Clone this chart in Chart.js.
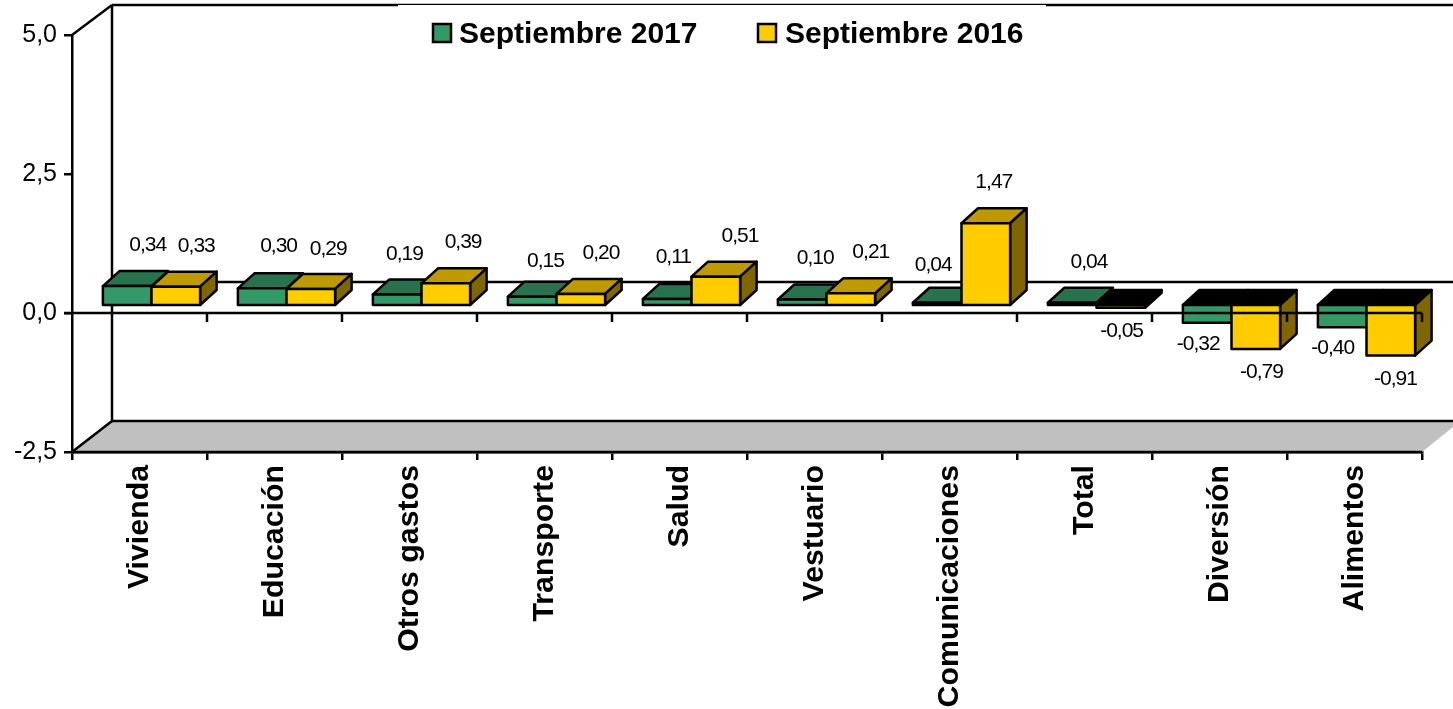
<!DOCTYPE html>
<html>
<head>
<meta charset="utf-8">
<style>html,body{margin:0;padding:0;background:#fff;overflow:hidden}canvas{display:block}</style>
<script src="https://cdn.jsdelivr.net/npm/chart.js@4/dist/chart.umd.min.js"></script>
</head>
<body>
<canvas id="c" width="1453" height="709"></canvas>
<script>
const categories = ['Vivienda','Educación','Otros gastos','Transporte','Salud','Vestuario','Comunicaciones','Total','Diversión','Alimentos'];
const sep2017 = [0.34,0.30,0.19,0.15,0.11,0.10,0.04,0.04,-0.32,-0.40];
const sep2016 = [0.33,0.29,0.39,0.20,0.51,0.21,1.47,-0.05,-0.79,-0.91];
const yTicks = [-2.5,0,2.5,5];

// hand-placed data-label nudges from the bar end, as in the source chart
const nudge2017 = [[20.5,-42],[16.4,-43],[7.3,-41],[13.2,-36],[6.1,-43],[13,-42],[-4,-39],[16.8,-42],[-9,20],[-9.4,20]];
const nudge2016 = [[20.5,-41],[17.4,-41],[17.3,-42],[20.2,-42],[24.1,-41],[20,-42],[8,-42],[0.8,22],[5.7,22],[4.6,23]];

const FONT = '"Liberation Sans", Arial, sans-serif';
const fmt = (v, d) => v.toFixed(d).replace('.', ',');
const WALL = {dx: 40, dy: -31};     // back wall offset
const ROW = {dx: 12, dy: -8};       // bars stand inside the floor depth
const DEPTH = {dx: 16.5, dy: -15};  // bar depth
const CW = 1453, LW = 2.5;

function poly(ctx, pts, fill, noStroke) {
  ctx.beginPath();
  pts.forEach((p, i) => i ? ctx.lineTo(p[0], p[1]) : ctx.moveTo(p[0], p[1]));
  ctx.closePath();
  if (fill) { ctx.fillStyle = fill; ctx.fill(); }
  if (!noStroke) ctx.stroke();
}
function seg(ctx, x1, y1, x2, y2) {
  ctx.beginPath(); ctx.moveTo(x1, y1); ctx.lineTo(x2, y2); ctx.stroke();
}
function drawBoxes(chart, index) {
  const {ctx, scales: {y}} = chart;
  const ds = chart.data.datasets[index];
  chart.getDatasetMeta(index).data.forEach((el, i) => {
    const p = el.getProps(['x', 'y', 'base', 'width'], true);
    const x0 = p.x - p.width / 2 + ROW.dx, x1 = p.x + p.width / 2 + ROW.dx;
    const yz = y.getPixelForValue(0) + ROW.dy;
    const yv = p.y + ROW.dy;
    const top = Math.min(yz, yv), bot = Math.max(yz, yv);
    const neg = ds.data[i] < 0;
    poly(ctx, [[x0, top], [x0 + DEPTH.dx, top + DEPTH.dy], [x1 + DEPTH.dx, top + DEPTH.dy], [x1, top]], neg ? '#000' : ds.topColor);
    // the first series' side is hidden by the neighbouring bar
    if (ds.sideColor) poly(ctx, [[x1, top], [x1 + DEPTH.dx, top + DEPTH.dy], [x1 + DEPTH.dx, bot + DEPTH.dy], [x1, bot]], ds.sideColor);
    poly(ctx, [[x0, top], [x1, top], [x1, bot], [x0, bot]], ds.backgroundColor);
  });
}

const threeD = {
  id: 'threeD',
  beforeDatasetsDraw(chart) {
    const {ctx, chartArea: a, scales: {y}} = chart;
    ctx.save();
    ctx.strokeStyle = '#000'; ctx.lineWidth = LW; ctx.lineJoin = 'round';
    const bx = a.left + WALL.dx, ty = a.top - 30, by = a.bottom + WALL.dy;
    // floor: grey only, its right diagonal has no outline
    poly(ctx, [[a.left, a.bottom], [bx, by], [CW, by], [CW, by + 6], [a.right, a.bottom]], '#C0C0C0', true);
    seg(ctx, a.left, a.bottom, bx, by);
    seg(ctx, bx, by, CW, by);
    seg(ctx, a.left, a.bottom, a.right, a.bottom);
    // walls
    seg(ctx, a.left, a.top, bx, ty);
    seg(ctx, bx, ty, bx, by);
    seg(ctx, bx, ty, CW, ty);
    const yb = y.getPixelForValue(0) + WALL.dy;
    seg(ctx, bx, yb, CW, yb);
    // 3-D boxes, first series first so that the second overlaps it
    chart.data.datasets.forEach((ds, i) => drawBoxes(chart, i));
    ctx.restore();
  },
  beforeDatasetDraw() {
    return false; // the 3-D boxes replace the flat bars
  },
  afterDatasetsDraw(chart) {
    const {ctx, chartArea: a, scales: {x, y}} = chart;
    ctx.save();
    ctx.strokeStyle = '#000'; ctx.lineWidth = LW;
    // front zero line with its ticks, over the bars
    const y0 = y.getPixelForValue(0);
    seg(ctx, a.left - 8, y0, a.right, y0);
    const step = (a.right - a.left) / categories.length;
    for (let i = 1; i <= categories.length; i++) {
      const tx = x.getPixelForValue(i - 1) + step / 2;
      seg(ctx, tx, y0, tx, y0 + 9);
    }
    // data labels
    ctx.fillStyle = '#000';
    ctx.font = '21px ' + FONT;
    ctx.letterSpacing = '-1px';
    ctx.textAlign = 'center'; ctx.textBaseline = 'middle';
    chart.data.datasets.forEach((ds, di) => {
      chart.getDatasetMeta(di).data.forEach((el, i) => {
        const n = ds.nudge[i];
        const p = el.getProps(['x', 'y'], true);
        ctx.fillText(fmt(ds.data[i], 2), p.x + ROW.dx + n[0], p.y + ROW.dy + n[1] + 1);
      });
    });
    ctx.letterSpacing = '0px';
    // legend
    ctx.fillStyle = '#fff';
    ctx.fillRect(398, 5, 648, 50);
    ctx.font = 'bold 30px ' + FONT;
    ctx.textAlign = 'left';
    ctx.textBaseline = 'alphabetic';
    [[433, 459], [758, 785]].forEach((pos, di) => {
      const ds = chart.data.datasets[di];
      ctx.fillStyle = ds.backgroundColor;
      ctx.fillRect(pos[0], 24, 18, 18);
      ctx.strokeRect(pos[0], 24, 18, 18);
      ctx.fillStyle = '#000';
      ctx.fillText(ds.label, pos[1], 43);
    });
    ctx.restore();
  }
};

new Chart(document.getElementById('c'), {
  type: 'bar',
  data: {
    labels: categories,
    datasets: [
      {label: 'Septiembre 2017', data: sep2017, backgroundColor: '#339966', topColor: '#28734D', nudge: nudge2017},
      {label: 'Septiembre 2016', data: sep2016, backgroundColor: '#FFCC00', topColor: '#BF9900', sideColor: '#806600', nudge: nudge2016}
    ]
  },
  options: {
    responsive: false,
    animation: false,
    layout: {padding: {top: 35, right: 31, left: 0, bottom: 0}},
    plugins: {legend: {display: false}, tooltip: {enabled: false}},
    datasets: {bar: {categoryPercentage: 0.72, barPercentage: 1}},
    scales: {
      x: {
        afterFit(s) { s.height = 709 - 452; },
        grid: {offset: true, drawOnChartArea: false, color: '#000', lineWidth: 2.5, tickLength: 8},
        border: {display: true, color: '#000', width: 2.5},
        ticks: {
          minRotation: 90, maxRotation: 90, autoSkip: false, padding: 5,
          color: '#000', font: {family: FONT, size: 30.3, weight: 'bold'}
        }
      },
      y: {
        min: -2.5, max: 5,
        afterFit(s) { s.width = 72; },
        afterBuildTicks(s) { s.ticks = yTicks.map(v => ({value: v})); },
        grid: {drawOnChartArea: false, color: '#000', lineWidth: 2.5, tickLength: 8},
        border: {display: true, color: '#000', width: 2.5},
        ticks: {
          padding: 7, color: '#000', font: {family: FONT, size: 25},
          callback: v => fmt(v, 1)
        }
      }
    }
  },
  plugins: [threeD]
});
</script>
</body>
</html>
